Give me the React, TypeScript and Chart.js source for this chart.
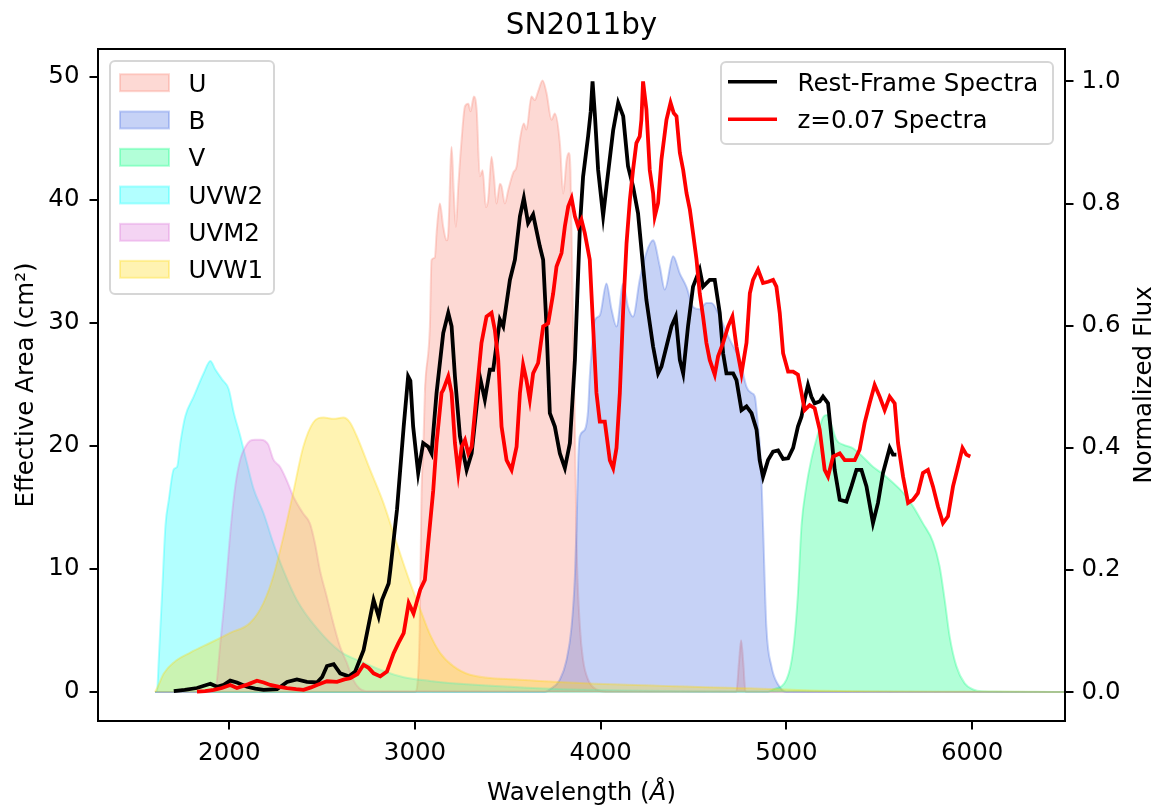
import { useEffect, useRef } from "react";
import { Chart, registerables } from "chart.js";

Chart.register(...registerables);

const FONT = "'DejaVu Sans', sans-serif";

// ---- axes / ticks ----
const xTicks = [2000, 3000, 4000, 5000, 6000];
const leftTicks = [0, 10, 20, 30, 40, 50];
const rightTicks = [0, 0.2, 0.4, 0.6, 0.8, 1.0];

// ---- filter effective areas (cm^2) ----
const uLambda = [1600, 3000, 3012, 3025, 3035, 3045, 3053, 3080, 3089, 3107, 3116, 3134, 3152, 3170, 3179, 3197, 3209, 3220, 3233, 3251, 3269, 3287, 3299, 3317, 3332, 3349, 3364, 3382, 3394, 3412, 3425, 3439, 3457, 3466, 3484, 3502, 3529, 3547, 3565, 3586, 3600, 3627, 3645, 3663, 3687, 3708, 3735, 3753, 3780, 3798, 3816, 3828, 3837, 3851, 3861, 3870, 3888, 3905, 3932, 3977, 4050, 4730, 4745, 4756, 4767, 4780, 6500];
const uArea = [0, 0, 0.5, 5, 16, 20, 24.3, 29.7, 35.1, 35.3, 37.3, 39.7, 37.8, 36.7, 37.3, 44.3, 40.5, 37.8, 41.1, 44.9, 47.6, 47.8, 47.2, 48.4, 47.3, 41.9, 42.4, 39.4, 40.0, 43.5, 41.9, 39.7, 41.3, 41.1, 39.7, 40.8, 42.2, 42.7, 44.9, 46.2, 45.7, 48.4, 48.1, 48.8, 49.7, 48.7, 46.5, 47.0, 44.6, 40.5, 43.2, 43.8, 42.4, 29.7, 21.6, 12.0, 5.3, 2.6, 1.0, 0.2, 0, 0, 2.5, 4.2, 2.5, 0, 0];

const bLambda = [1600, 3700, 3726, 3780, 3816, 3843, 3861, 3870, 3879, 3888, 3914, 3932, 3941, 3950, 3968, 3995, 4031, 4058, 4085, 4121, 4147, 4174, 4210, 4246, 4282, 4318, 4345, 4390, 4426, 4462, 4497, 4533, 4569, 4596, 4641, 4677, 4713, 4749, 4785, 4812, 4830, 4847, 4856, 4865, 4874, 4892, 4919, 4955, 5000, 6500];
const bArea = [0, 0, 0.2, 1.0, 2.6, 5.3, 9.4, 13.5, 18.9, 20.8, 21.3, 22.9, 25.6, 27.5, 30.2, 30.6, 33.2, 31.1, 29.7, 33.2, 31.3, 30.5, 33.5, 35.7, 36.7, 34.6, 32.7, 35.4, 34.0, 32.9, 31.3, 31.1, 31.6, 31.6, 30.5, 29.2, 28.1, 27.0, 24.8, 24.3, 24.0, 21.6, 20.2, 17.5, 13.5, 5.3, 2.1, 0.6, 0, 0];

const vLambda = [1600, 4900, 4928, 5000, 5036, 5062, 5081, 5107, 5134, 5170, 5197, 5219, 5242, 5269, 5305, 5359, 5412, 5466, 5520, 5574, 5628, 5681, 5735, 5789, 5825, 5852, 5879, 5915, 5960, 6005, 6050, 6500];
const vArea = [0, 0, 0.2, 1.0, 3.4, 8.0, 13.5, 16.7, 18.9, 21.0, 22.3, 22.5, 21.7, 20.5, 20.1, 19.8, 19.1, 18.3, 17.7, 17.0, 16.2, 15.1, 13.7, 12.2, 10.2, 7.5, 4.5, 2.1, 0.7, 0.2, 0.05, 0];

const uvw2Lambda = [1600, 1611, 1620, 1638, 1656, 1674, 1701, 1719, 1736, 1763, 1808, 1862, 1898, 1925, 1961, 1997, 2024, 2059, 2095, 2131, 2185, 2237, 2291, 2363, 2470, 2596, 2722, 2831, 2939, 3080, 3300, 3600, 4000, 4500, 6500];
const uvw2Area = [0, 0.1, 2.6, 8.0, 13.5, 15.6, 18.1, 18.3, 20.2, 22.4, 24.0, 25.9, 26.9, 26.2, 25.4, 24.6, 22.7, 20.8, 18.6, 16.5, 14.5, 12.1, 9.9, 7.5, 5.2, 3.3, 2.4, 1.7, 1.2, 0.9, 0.6, 0.35, 0.15, 0.05, 0];

const uvm2Lambda = [1600, 1900, 1925, 1952, 1978, 2005, 2032, 2059, 2086, 2111, 2140, 2167, 2192, 2210, 2237, 2273, 2309, 2344, 2398, 2434, 2461, 2488, 2524, 2560, 2596, 2632, 2667, 2700, 2750, 6500];
const uvm2Area = [0, 0, 0.2, 4.0, 8.0, 12.9, 16.7, 18.9, 19.9, 20.4, 20.5, 20.5, 20.4, 20.1, 18.9, 18.3, 17.2, 15.9, 14.5, 13.7, 12.1, 9.9, 7.8, 5.6, 3.7, 2.4, 1.0, 0.3, 0.05, 0];

const uvw1Lambda = [1600, 1611, 1647, 1701, 1790, 1898, 2004, 2111, 2183, 2237, 2291, 2344, 2398, 2452, 2508, 2562, 2614, 2650, 2686, 2757, 2829, 2901, 2973, 3026, 3080, 3134, 3206, 3296, 3565, 4103, 4803, 5200, 6500];
const uvw1Area = [0, 0.3, 1.5, 2.4, 3.2, 4.0, 4.8, 5.6, 7.2, 9.4, 12.6, 16.2, 19.9, 21.9, 22.3, 22.2, 22.3, 21.9, 20.8, 18.1, 15.4, 12.1, 8.9, 6.8, 4.7, 3.2, 2.1, 1.4, 1.0, 0.6, 0.3, 0.1, 0];

// ---- spectra (normalized flux) ----
const restLambda = [1701, 1760, 1826, 1898, 1934, 1970, 2005, 2041, 2095, 2140, 2185, 2257, 2311, 2364, 2418, 2472, 2500, 2526, 2562, 2597, 2643, 2678, 2723, 2777, 2804, 2822, 2858, 2867, 2903, 2939, 2963, 2975, 2990, 3017, 3044, 3071, 3089, 3116, 3152, 3179, 3197, 3215, 3242, 3278, 3305, 3349, 3376, 3403, 3421, 3457, 3475, 3511, 3538, 3565, 3586, 3609, 3636, 3672, 3690, 3708, 3726, 3753, 3780, 3807, 3834, 3861, 3888, 3905, 3932, 3946, 3956, 3968, 3986, 4013, 4031, 4067, 4094, 4121, 4147, 4174, 4201, 4228, 4246, 4282, 4309, 4327, 4354, 4381, 4404, 4426, 4444, 4470, 4497, 4533, 4551, 4587, 4614, 4641, 4659, 4677, 4713, 4731, 4758, 4785, 4812, 4839, 4856, 4874, 4901, 4928, 4955, 4982, 5009, 5036, 5062, 5081, 5098, 5116, 5134, 5152, 5179, 5197, 5224, 5242, 5260, 5287, 5323, 5350, 5377, 5404, 5431, 5466, 5493, 5520, 5556, 5574, 5592];
const restFlux = [0.002, 0.004, 0.007, 0.014, 0.009, 0.012, 0.019, 0.016, 0.009, 0.006, 0.004, 0.005, 0.017, 0.021, 0.017, 0.016, 0.025, 0.043, 0.046, 0.031, 0.026, 0.034, 0.069, 0.151, 0.124, 0.151, 0.178, 0.2, 0.299, 0.435, 0.517, 0.51, 0.435, 0.359, 0.408, 0.402, 0.391, 0.49, 0.588, 0.621, 0.599, 0.517, 0.419, 0.364, 0.391, 0.517, 0.479, 0.528, 0.528, 0.61, 0.599, 0.675, 0.708, 0.779, 0.809, 0.768, 0.782, 0.73, 0.708, 0.599, 0.457, 0.435, 0.391, 0.367, 0.408, 0.544, 0.763, 0.844, 0.91, 0.95, 1.0, 0.948, 0.855, 0.78, 0.828, 0.92, 0.965, 0.943, 0.861, 0.828, 0.784, 0.697, 0.642, 0.566, 0.522, 0.533, 0.566, 0.599, 0.615, 0.544, 0.522, 0.599, 0.664, 0.692, 0.664, 0.675, 0.675, 0.621, 0.555, 0.522, 0.522, 0.511, 0.462, 0.468, 0.457, 0.43, 0.38, 0.353, 0.38, 0.394, 0.396, 0.382, 0.383, 0.4, 0.435, 0.451, 0.479, 0.503, 0.484, 0.473, 0.476, 0.484, 0.473, 0.419, 0.364, 0.315, 0.312, 0.337, 0.364, 0.364, 0.337, 0.277, 0.31, 0.359, 0.4, 0.389, 0.389];

const zLambda = [1826, 1870, 1916, 1960, 2005, 2041, 2100, 2149, 2185, 2221, 2270, 2311, 2360, 2400, 2440, 2472, 2526, 2580, 2620, 2651, 2690, 2723, 2750, 2777, 2813, 2849, 2885, 2910, 2939, 2966, 2980, 2992, 3028, 3053, 3071, 3098, 3116, 3125, 3143, 3152, 3179, 3197, 3215, 3233, 3251, 3269, 3287, 3305, 3332, 3358, 3385, 3412, 3430, 3448, 3466, 3493, 3520, 3547, 3565, 3582, 3600, 3618, 3636, 3663, 3690, 3717, 3744, 3762, 3789, 3807, 3825, 3843, 3861, 3878, 3896, 3914, 3941, 3959, 3977, 3995, 4022, 4049, 4067, 4085, 4103, 4121, 4139, 4157, 4174, 4192, 4210, 4219, 4228, 4246, 4264, 4282, 4291, 4309, 4327, 4354, 4376, 4393, 4408, 4426, 4444, 4462, 4480, 4497, 4516, 4533, 4551, 4569, 4587, 4614, 4632, 4659, 4686, 4709, 4731, 4758, 4785, 4803, 4820, 4847, 4874, 4901, 4928, 4946, 4964, 4982, 5009, 5036, 5062, 5081, 5098, 5125, 5152, 5179, 5206, 5224, 5251, 5287, 5314, 5341, 5368, 5394, 5421, 5448, 5475, 5502, 5529, 5556, 5583, 5601, 5628, 5655, 5681, 5708, 5735, 5762, 5789, 5816, 5843, 5870, 5897, 5924, 5948, 5969, 5990];
const zFlux = [0.001, 0.002, 0.004, 0.007, 0.012, 0.007, 0.013, 0.019, 0.016, 0.012, 0.009, 0.007, 0.005, 0.004, 0.008, 0.012, 0.018, 0.017, 0.021, 0.023, 0.03, 0.045, 0.04, 0.031, 0.026, 0.034, 0.064, 0.08, 0.097, 0.146, 0.137, 0.129, 0.168, 0.184, 0.244, 0.33, 0.408, 0.435, 0.49, 0.495, 0.517, 0.49, 0.408, 0.359, 0.402, 0.413, 0.391, 0.402, 0.49, 0.572, 0.615, 0.621, 0.593, 0.544, 0.435, 0.38, 0.364, 0.402, 0.49, 0.536, 0.511, 0.479, 0.522, 0.539, 0.599, 0.604, 0.653, 0.697, 0.719, 0.763, 0.795, 0.809, 0.779, 0.763, 0.774, 0.752, 0.708, 0.599, 0.49, 0.443, 0.443, 0.38, 0.367, 0.4, 0.49, 0.626, 0.735, 0.806, 0.855, 0.899, 0.91, 0.937, 1.0, 0.954, 0.855, 0.817, 0.779, 0.801, 0.872, 0.937, 0.965, 0.948, 0.943, 0.883, 0.855, 0.817, 0.79, 0.752, 0.708, 0.653, 0.615, 0.572, 0.544, 0.52, 0.55, 0.572, 0.599, 0.615, 0.566, 0.522, 0.572, 0.653, 0.675, 0.692, 0.67, 0.672, 0.675, 0.664, 0.621, 0.555, 0.525, 0.525, 0.52, 0.49, 0.462, 0.47, 0.465, 0.43, 0.364, 0.353, 0.386, 0.391, 0.38, 0.38, 0.38, 0.397, 0.441, 0.473, 0.503, 0.484, 0.462, 0.484, 0.473, 0.408, 0.353, 0.31, 0.315, 0.326, 0.359, 0.364, 0.337, 0.304, 0.277, 0.288, 0.337, 0.37, 0.4, 0.389, 0.386];

const filterNames = ["U", "B", "V", "UVW2", "UVM2", "UVW1"];
const filterRGB = ["250,128,114", "65,105,225", "0,255,127", "0,255,255", "218,112,214", "255,215,0"];
const filterLambdas = [uLambda, bLambda, vLambda, uvw2Lambda, uvm2Lambda, uvw1Lambda];
const filterAreas = [uArea, bArea, vArea, uvw2Area, uvm2Area, uvw1Area];

const spectraNames = ["Rest-Frame Spectra", "z=0.07 Spectra"];
const spectraColors = ["#000000", "#ff0000"];

const pts = (xs: number[], ys: number[]) => xs.map((x, i) => ({ x, y: ys[i] }));

const TICK_FONT = { family: FONT, size: 24.5 };

function roundRect(ctx: CanvasRenderingContext2D, x: number, y: number, w: number, h: number, r: number) {
  ctx.beginPath();
  ctx.moveTo(x + r, y);
  ctx.lineTo(x + w - r, y);
  ctx.arcTo(x + w, y, x + w, y + r, r);
  ctx.lineTo(x + w, y + h - r);
  ctx.arcTo(x + w, y + h, x + w - r, y + h, r);
  ctx.lineTo(x + r, y + h);
  ctx.arcTo(x, y + h, x, y + h - r, r);
  ctx.lineTo(x, y + r);
  ctx.arcTo(x, y, x + r, y, r);
  ctx.closePath();
}

const decorPlugin = {
  id: "decor",
  afterDraw(chart: any) {
    const { ctx, chartArea } = chart;
    const { left, right, top, bottom } = chartArea;
    ctx.save();
    // frame
    ctx.strokeStyle = "#000";
    ctx.lineWidth = 2;
    ctx.strokeRect(left, top, right - left, bottom - top);

    const cx = (left + right) / 2;
    const cy = (top + bottom) / 2;
    ctx.fillStyle = "#000";

    // title
    ctx.font = `29.4px ${FONT}`;
    ctx.textAlign = "center";
    ctx.textBaseline = "alphabetic";
    ctx.fillText("SN2011by", cx, 33.5);

    // x label with italic Angstrom
    ctx.font = `24.5px ${FONT}`;
    const p1 = "Wavelength (";
    const p3 = ")";
    const w1 = ctx.measureText(p1).width;
    const w3 = ctx.measureText(p3).width;
    ctx.font = `italic 24.5px ${FONT}`;
    const w2 = ctx.measureText("Å").width;
    const x0 = cx - (w1 + w2 + w3) / 2;
    ctx.textAlign = "left";
    ctx.font = `24.5px ${FONT}`;
    ctx.fillText(p1, x0, 800);
    ctx.font = `italic 24.5px ${FONT}`;
    ctx.fillText("Å", x0 + w1, 800);
    ctx.font = `24.5px ${FONT}`;
    ctx.fillText(p3, x0 + w1 + w2, 800);

    // y labels (rotated, reading bottom to top)
    ctx.textAlign = "center";
    ctx.save();
    ctx.translate(33, cy);
    ctx.rotate(-Math.PI / 2);
    ctx.fillText("Effective Area (cm²)", 0, 0);
    ctx.restore();
    ctx.save();
    ctx.translate(1151, cy);
    ctx.rotate(-Math.PI / 2);
    ctx.fillText("Normalized Flux", 0, 0);
    ctx.restore();

    // legend 1 (filters)
    ctx.fillStyle = "rgba(255,255,255,0.8)";
    ctx.strokeStyle = "rgba(204,204,204,0.8)";
    ctx.lineWidth = 2;
    roundRect(ctx, 110, 61, 164, 233, 5);
    ctx.fill();
    ctx.stroke();
    const rows1 = [82.7, 120, 157.3, 195, 232.3, 269.3];
    const ds = chart.data.datasets;
    ctx.textAlign = "left";
    ctx.font = `24.5px ${FONT}`;
    rows1.forEach((ry: number, i: number) => {
      const d = ds[i];
      ctx.fillStyle = "#fff";
      ctx.fillRect(120, ry - 8.5, 49, 17);
      ctx.fillStyle = d.backgroundColor;
      ctx.fillRect(120, ry - 8.5, 49, 17);
      ctx.strokeStyle = d.borderColor;
      ctx.lineWidth = 2;
      ctx.strokeRect(120, ry - 8.5, 49, 17);
      ctx.fillStyle = "#000";
      ctx.fillText(d.label, 188.5, ry + 8.9);
    });

    // legend 2 (spectra)
    ctx.fillStyle = "rgba(255,255,255,0.8)";
    ctx.strokeStyle = "rgba(204,204,204,0.8)";
    ctx.lineWidth = 2;
    roundRect(ctx, 721, 62, 332, 82, 5);
    ctx.fill();
    ctx.stroke();
    const rows2 = [81.7, 119.3];
    rows2.forEach((ry: number, i: number) => {
      const d = ds[6 + i];
      ctx.strokeStyle = d.borderColor;
      ctx.lineWidth = 3.6;
      ctx.beginPath();
      ctx.moveTo(728, ry);
      ctx.lineTo(777, ry);
      ctx.stroke();
      ctx.fillStyle = "#000";
      ctx.fillText(d.label, 797.5, ry + 8.9);
    });
    ctx.restore();
  },
};

export default function App() {
  const ref = useRef<HTMLCanvasElement | null>(null);

  useEffect(() => {
    if (!ref.current) return;
    const filterSets = filterNames.map((name, i) => ({
      label: name,
      data: pts(filterLambdas[i], filterAreas[i]),
      yAxisID: "y",
      borderColor: `rgba(${filterRGB[i]},0.3)`,
      backgroundColor: `rgba(${filterRGB[i]},0.3)`,
      borderWidth: 2,
      fill: "origin",
      pointRadius: 0,
      cubicInterpolationMode: "monotone",
      order: 7 - i,
    }));
    const specSets = [
      { lam: restLambda, flux: restFlux },
      { lam: zLambda, flux: zFlux },
    ].map((s, i) => ({
      label: spectraNames[i],
      data: pts(s.lam, s.flux),
      yAxisID: "y2",
      borderColor: spectraColors[i],
      backgroundColor: spectraColors[i],
      borderWidth: 3.8,
      fill: false,
      pointRadius: 0,
      tension: 0,
      order: 1 - i,
    }));

    const tickGrid = {
      display: true,
      drawOnChartArea: false,
      drawTicks: true,
      tickLength: 8.5,
      tickWidth: 2,
      tickColor: "#000",
      color: "#000",
      lineWidth: 2,
    };

    const chart = new Chart(ref.current, {
      type: "line",
      data: { datasets: [...filterSets, ...specSets] as any },
      plugins: [decorPlugin],
      options: {
        animation: false,
        responsive: false,
        devicePixelRatio: 1,
        layout: { padding: { top: 49, left: 0, right: 0, bottom: 0 } },
        plugins: {
          legend: { display: false },
          tooltip: { enabled: false },
          title: { display: false },
        },
        scales: {
          x: {
            type: "linear",
            position: "bottom",
            min: 1293,
            max: 6500,
            afterBuildTicks: (s: any) => {
              s.ticks = xTicks.map((v) => ({ value: v }));
            },
            afterFit: (s: any) => {
              s.height = 88;
            },
            ticks: {
              font: TICK_FONT,
              color: "#000",
              padding: 9,
              autoSkip: false,
              maxRotation: 0,
              callback: (v: any) => String(v),
            },
            grid: tickGrid,
            border: { display: false },
          },
          y: {
            type: "linear",
            position: "left",
            min: -2.36,
            max: 52.25,
            afterBuildTicks: (s: any) => {
              s.ticks = leftTicks.map((v) => ({ value: v }));
            },
            afterFit: (s: any) => {
              s.width = 98;
            },
            ticks: {
              font: TICK_FONT,
              color: "#000",
              padding: 10,
              callback: (v: any) => String(v),
            },
            grid: tickGrid,
            border: { display: false },
          },
          y2: {
            type: "linear",
            position: "right",
            min: -0.047,
            max: 1.053,
            afterBuildTicks: (s: any) => {
              s.ticks = rightTicks.map((v) => ({ value: v }));
            },
            afterFit: (s: any) => {
              s.width = 94;
            },
            ticks: {
              font: TICK_FONT,
              color: "#000",
              padding: 8,
              callback: (v: any) => Number(v).toFixed(1),
            },
            grid: tickGrid,
            border: { display: false },
          },
        },
      } as any,
    });
    return () => chart.destroy();
  }, []);

  return (
    <canvas
      ref={ref}
      width={1159}
      height={809}
      style={{ position: "absolute", left: 0, top: 0, width: 1159, height: 809 }}
    />
  );
}
